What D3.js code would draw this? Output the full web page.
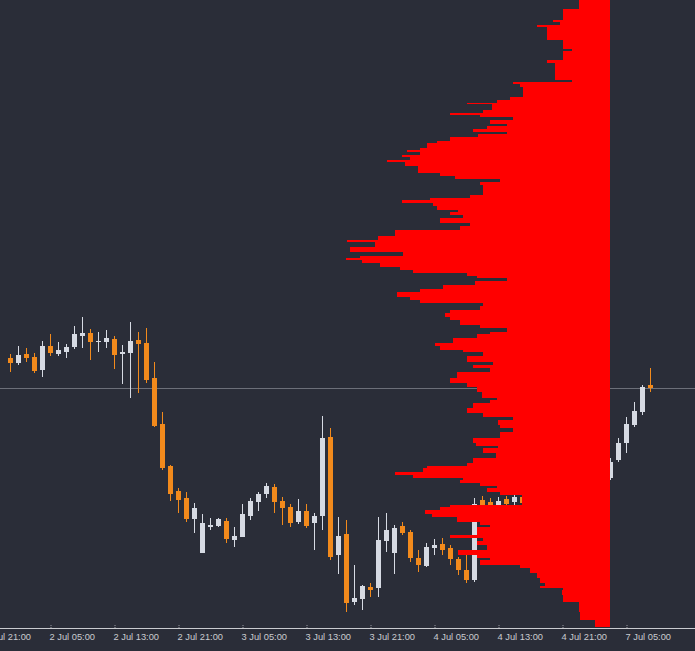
<!DOCTYPE html>
<html><head><meta charset="utf-8">
<script src="https://cdn.jsdelivr.net/npm/d3@7"></script>
<style>html,body{margin:0;padding:0;background:#2a2d38;overflow:hidden}</style>
</head><body><svg id="c" width="695" height="651"></svg>
<script>
// ---- data ----
const firstIndex = 1; // bar index of the first candle (1 Jul 23:00 = 0)
const opens = [3364.23,3363.73,3364.63,3364.30,3363.00,3365.40,3364.57,3364.83,3365.33,3366.40,
3366.73,3365.80,3365.77,3366.10,3364.60,3364.73,3366.00,3365.75,3362.20,3357.60,
3353.43,3350.90,3350.17,3348.10,3344.73,3347.30,3347.40,3347.93,3346.00,3346.33,
3348.40,3349.83,3350.57,3351.33,3349.93,3349.33,3347.83,3348.90,3347.73,3348.43,
3356.33,3344.50,3346.57,3339.77,3340.10,3341.33,3341.23,3345.93,3344.67,3347.40,
3346.77,3344.17,3343.43,3345.23,3345.57,3345.23,3344.10,3343.00,3342.00,3350.00,
3349.80,3349.50,3350.10,3349.80,3350.30,3349.70,3349.20,3350.00,3349.30,3348.80,
3349.80,3349.40,3350.30,3351.50,3350.90,3352.17,3354.00,3355.67,3357.50,3358.83,3361.50];
const highs = [3364.57,3365.40,3365.17,3364.67,3365.90,3366.57,3365.77,3365.57,3367.43,3368.33,
3367.10,3366.83,3367.00,3366.43,3365.50,3367.83,3366.83,3367.17,3363.80,3358.83,
3353.50,3351.17,3350.83,3349.73,3348.60,3348.17,3348.17,3348.17,3347.33,3349.60,
3350.17,3350.83,3351.67,3351.60,3350.27,3349.60,3350.10,3349.57,3348.70,3358.40,
3357.17,3348.33,3348.00,3343.50,3341.50,3341.73,3348.27,3348.67,3347.50,3347.83,
3347.00,3345.00,3345.67,3346.07,3346.17,3345.50,3344.33,3344.50,3350.20,3350.40,
3350.20,3350.30,3350.40,3350.50,3350.60,3350.10,3350.30,3350.40,3349.70,3350.10,
3350.10,3350.70,3351.80,3352.00,3352.70,3354.20,3356.17,3358.27,3359.83,3361.50,3363.17];
const lows = [3362.83,3363.50,3363.83,3362.67,3362.33,3364.40,3364.43,3364.23,3365.07,3365.23,
3364.00,3364.83,3365.23,3363.07,3361.60,3360.17,3360.67,3361.67,3357.33,3353.00,
3349.93,3348.67,3347.83,3346.67,3344.67,3347.00,3347.33,3345.67,3345.33,3346.27,
3348.00,3348.93,3350.17,3348.73,3347.50,3347.33,3347.60,3347.17,3345.00,3347.00,
3344.00,3342.60,3338.83,3339.50,3339.00,3340.33,3340.33,3344.83,3342.60,3346.50,
3343.83,3342.83,3343.33,3344.50,3344.50,3343.50,3342.50,3341.73,3341.83,3349.00,
3347.30,3349.20,3349.30,3349.50,3349.40,3348.90,3349.00,3348.80,3348.40,3348.60,
3349.20,3349.20,3350.00,3350.60,3350.70,3352.00,3353.83,3354.67,3357.33,3358.50,3360.83];
const closes = [3363.67,3364.50,3364.17,3362.90,3365.40,3364.67,3365.00,3365.30,3366.60,3366.73,
3365.80,3365.93,3366.20,3364.50,3364.80,3365.90,3365.60,3362.05,3357.40,3353.17,
3350.57,3350.00,3348.07,3349.23,3347.73,3347.50,3348.10,3346.07,3346.43,3348.60,
3349.93,3350.60,3351.43,3349.77,3349.23,3347.73,3348.90,3347.40,3348.40,3356.23,
3344.33,3346.40,3339.73,3340.23,3341.40,3341.00,3346.00,3347.00,3347.23,3346.73,
3344.17,3343.50,3345.33,3345.50,3345.00,3344.07,3343.00,3342.00,3349.60,3349.50,
3348.50,3349.90,3349.60,3350.30,3349.70,3349.20,3350.00,3349.30,3348.80,3349.80,
3349.40,3350.40,3351.50,3350.90,3352.30,3353.83,3355.73,3357.60,3358.93,3361.33,3361.20];

const tickIndex = [-2, 6, 14, 22, 30, 38, 46, 54, 62, 70, 78];
const tickLabels = ["1 Jul 21:00","2 Jul 05:00","2 Jul 13:00","2 Jul 21:00","3 Jul 05:00",
"3 Jul 13:00","3 Jul 21:00","4 Jul 05:00","4 Jul 13:00","4 Jul 21:00","7 Jul 05:00"];

// volume profile: top price of each row, volume of each row
const profileLevels = [3400.00,3399.07,3398.00,3397.80,3397.50,3397.30,3396.00,3395.10,3394.90,3394.00,
3393.70,3392.00,3391.80,3391.60,3391.30,3390.30,3390.00,3389.70,3389.55,3389.00,
3388.70,3388.50,3388.30,3388.00,3387.60,3387.40,3387.10,3386.80,3386.60,3386.30,
3385.90,3385.70,3385.20,3385.00,3384.80,3384.50,3384.30,3384.00,3383.80,3383.40,
3382.70,3382.40,3382.10,3381.80,3381.50,3380.50,3380.20,3380.00,3379.70,3379.40,
3379.00,3378.80,3378.50,3378.20,3377.70,3377.40,3377.00,3376.40,3376.00,3375.80,
3375.30,3374.80,3374.40,3374.20,3374.00,3373.70,3373.30,3373.00,3372.70,3372.40,
3372.20,3371.90,3371.50,3371.10,3370.80,3370.30,3370.00,3369.70,3369.40,3369.00,
3368.70,3368.30,3368.00,3367.50,3367.20,3366.80,3366.60,3366.20,3365.70,3365.40,
3365.00,3364.80,3364.40,3363.80,3363.50,3363.20,3362.80,3362.20,3361.70,3361.30,
3360.80,3360.20,3360.00,3359.70,3359.20,3358.70,3358.30,3358.00,3357.50,3357.20,
3356.80,3356.20,3355.70,3355.40,3355.20,3354.70,3354.20,3353.70,3353.40,3353.20,
3352.80,3352.50,3352.20,3352.00,3351.70,3351.40,3351.20,3350.80,3350.50,3349.50,
3349.30,3349.00,3348.60,3348.30,3347.80,3347.50,3347.30,3346.50,3346.20,3345.90,
3345.50,3345.00,3344.50,3344.20,3344.00,3343.50,3343.20,3342.70,3342.20,3341.70,
3341.40,3341.20,3341.00,3340.50,3339.80,3338.80,3338.00];
const profileBottom = 3337.30;
const profileVolumes = [31,47,57,50,73,63,47,38,47,63,
55,38,97,90,87,100,113,143,118,127,
160,130,97,120,103,123,137,103,132,160,
173,183,190,203,190,208,200,223,205,192,
170,155,110,130,127,140,180,208,177,173,
152,160,147,170,140,150,215,232,263,235,
260,207,250,264,248,230,210,197,143,133,
103,135,167,190,213,200,190,127,130,160,
165,160,150,130,103,120,133,157,175,170,
147,127,143,117,137,120,153,160,143,133,
128,113,120,137,143,127,97,112,110,97,
110,137,134,112,127,114,137,143,183,187,
215,197,147,150,130,113,123,110,88,160,
170,185,178,153,130,120,133,160,127,133,
123,152,133,120,130,90,80,73,70,65,
70,47,48,47,31,30,15];

// ---- drawing ----
const W = 695, H = 651;
const svg = d3.select("#c");
svg.append("rect").attr("width", W).attr("height", H).attr("fill", "#2a2d38");

const y = d3.scaleLinear().domain([3400, 3337.2]).range([0, 628]);
const x = d3.scaleLinear().domain([0, 81]).range([2, 650]);
const vx = d3.scaleLinear().domain([0, 300]).range([610, 310]);

const bull = "#d6dae3", bear = "#f28a1c";

const candles = opens.map((o, k) => ({i: firstIndex + k, o, h: highs[k], l: lows[k], c: closes[k]}));

// current price line
svg.append("line")
  .attr("x1", 0).attr("x2", W)
  .attr("y1", Math.round(y(closes[closes.length - 1])) + 0.5)
  .attr("y2", Math.round(y(closes[closes.length - 1])) + 0.5)
  .attr("stroke", "#6c6f79").attr("stroke-width", 1);

const g = svg.append("g").attr("shape-rendering", "crispEdges");
g.selectAll("line.wick").data(candles).enter().append("line")
  .attr("class", "wick")
  .attr("x1", d => Math.round(x(d.i)) + 0.5).attr("x2", d => Math.round(x(d.i)) + 0.5)
  .attr("y1", d => y(d.h)).attr("y2", d => y(d.l))
  .attr("stroke", d => d.c >= d.o ? bull : bear).attr("stroke-width", 1);
g.selectAll("rect.body").data(candles).enter().append("rect")
  .attr("class", "body")
  .attr("x", d => Math.round(x(d.i)) - 2).attr("width", 5)
  .attr("y", d => y(Math.max(d.o, d.c)))
  .attr("height", d => Math.max(1, Math.abs(y(d.o) - y(d.c))))
  .attr("fill", d => d.c >= d.o ? bull : bear);

// volume profile
const rows = profileLevels.map((p, k) => ({top: p, bottom: k + 1 < profileLevels.length ? profileLevels[k + 1] : profileBottom, v: profileVolumes[k]}));
svg.append("g").attr("shape-rendering", "crispEdges").selectAll("rect").data(rows).enter().append("rect")
  .attr("x", d => Math.round(vx(d.v))).attr("width", d => Math.round(vx(0)) - Math.round(vx(d.v)))
  .attr("y", d => Math.round(y(d.top)))
  .attr("height", d => Math.max(1, Math.round(y(d.bottom)) - Math.round(y(d.top))))
  .attr("fill", "#ff0000");

// time axis
svg.append("line").attr("x1", 0).attr("x2", W).attr("y1", 628.5).attr("y2", 628.5)
  .attr("stroke", "#c9cbd0").attr("stroke-width", 1);
const axis = d3.axisBottom(x).tickValues(tickIndex)
  .tickFormat((d, k) => tickLabels[k]).tickSize(-4).tickPadding(0);
const ax = svg.append("g").attr("transform", "translate(0,628)").call(axis);
ax.select(".domain").remove();
ax.selectAll(".tick line").attr("stroke", "#9a9ca3").attr("stroke-dasharray", "1,1")
  .attr("transform", "translate(0.5,0)");
ax.selectAll(".tick text")
  .attr("text-anchor", "start").attr("x", -1).attr("y", 12).attr("dy", 0)
  .attr("fill", "#c9cbd0")
  .style("font-family", "'Liberation Sans', Arial, sans-serif").style("font-size", "9.3px");
</script></body></html>
